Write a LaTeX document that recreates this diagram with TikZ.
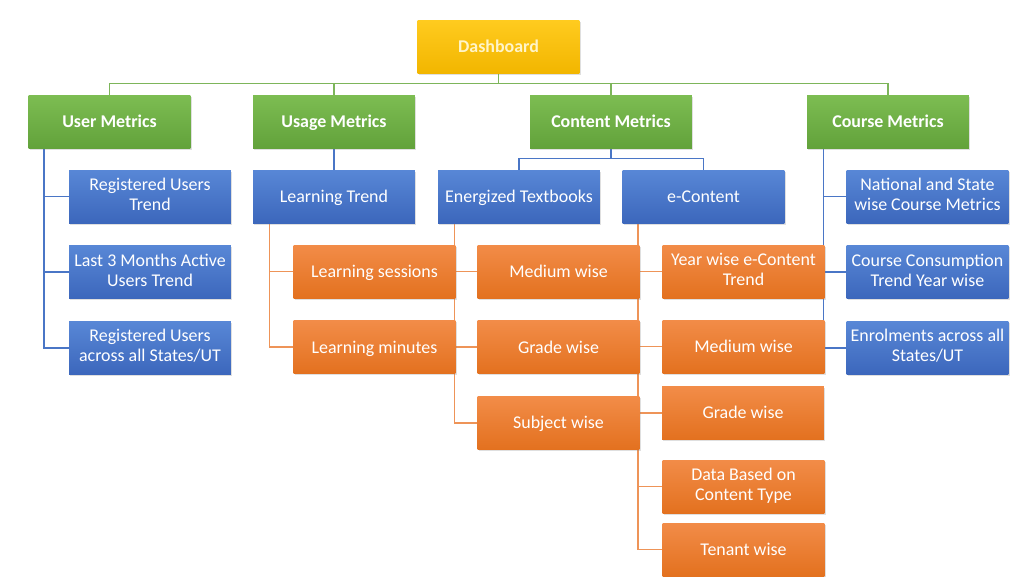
\documentclass[tikz,border=0pt]{standalone}
\usepackage{fontspec}
\setmainfont{Carlito}
\usepackage{tikz}
\usetikzlibrary{positioning,backgrounds,shadows}
\definecolor{goldtop}{HTML}{FFCB1F}
\definecolor{goldbot}{HTML}{F2B600}
\definecolor{goldtext}{HTML}{FFF4C8}
\definecolor{greentop}{HTML}{7DBD52}
\definecolor{greenbot}{HTML}{62A23B}
\definecolor{bluetop}{HTML}{5887D6}
\definecolor{bluebot}{HTML}{3C67BC}
\definecolor{orangetop}{HTML}{F28C48}
\definecolor{orangebot}{HTML}{E3711F}
\definecolor{greenwire}{HTML}{7DB55A}
\definecolor{bluewire}{HTML}{4A76C6}
\definecolor{orangewire}{HTML}{EE9458}

\begin{document}
\begin{tikzpicture}[x=0.02cm, y=-0.02cm,
    box/.style={minimum width=3.24cm, minimum height=1.06cm, inner sep=1pt,
        align=center, text=white, font=\fontsize{10.2}{11.4}\selectfont,
        execute at begin node=\rule[-2.7pt]{0pt}{12.2pt},
        execute at end node=\rule[-2.7pt]{0pt}{12.2pt},
        drop shadow={shadow xshift=0.6pt, shadow yshift=-0.9pt, opacity=0.25}},
    topbox/.style={box, top color=goldtop, bottom color=goldbot, text=goldtext,
        font=\fontsize{10.2}{11.4}\selectfont\bfseries},
    headbox/.style={box, top color=greentop, bottom color=greenbot,
        font=\fontsize{10.2}{11.4}\selectfont\bfseries},
    bluebox/.style={box, top color=bluetop, bottom color=bluebot},
    orangebox/.style={box, top color=orangetop, bottom color=orangebot},
    greenline/.style={draw=greenwire, line width=0.8pt},
    blueline/.style={draw=bluewire, line width=0.8pt},
    orangeline/.style={draw=orangewire, line width=0.8pt}]
  \useasboundingbox (0,0) rectangle (1024,576);

  \node[topbox] (db) at (498.5,46.5) {Dashboard};

  \node[headbox] (um) at (109.5,121.5) {User Metrics};
  \node[headbox] (us) at (334,121.5) {Usage Metrics};
  \node[headbox] (cm) at (611,121.5) {Content Metrics};
  \node[headbox] (co) at (888,121.5) {Course Metrics};

  \node[bluebox] (u1) at (150,196.5) {Registered Users\\Trend};
  \node[bluebox, below=0.44cm of u1] (u2) {Last 3 Months Active\\Users Trend};
  \node[bluebox, below=0.44cm of u2] (u3) {Registered Users\\across all States/UT};

  \node[bluebox] (lt) at (334,196.5) {Learning Trend};
  \node[bluebox] (et) at (519,196.5) {Energized Textbooks};
  \node[bluebox] (ec) at (703.5,196.5) {e-Content};

  \node[bluebox] (c1) at (927.5,196.5) {National and State\\wise Course Metrics};
  \node[bluebox, below=0.44cm of c1] (c2) {Course Consumption\\Trend Year wise};
  \node[bluebox, below=0.44cm of c2] (c3) {Enrolments across all\\States/UT};

  \node[orangebox] (ls) at (374.5,271.5) {Learning sessions};
  \node[orangebox, below=0.44cm of ls] (lm) {Learning minutes};

  \node[orangebox] (em) at (558.5,271.5) {Medium wise};
  \node[orangebox, below=0.44cm of em] (eg) {Grade wise};
  \node[orangebox, below=0.44cm of eg] (es) {Subject wise};

  \node[orangebox] (y1) at (743.5,271.5) {Year wise e-Content\\Trend};
  \node[orangebox] (y2) at (743.5,346.5) {Medium wise};
  \node[orangebox] (y3) at (743,413) {Grade wise};
  \node[orangebox] (y4) at (743.5,486.5) {Data Based on\\Content Type};
  \node[orangebox] (y5) at (743.5,549.5) {Tenant wise};

  \begin{scope}[on background layer]
    \draw[greenline] (db.south) -- ++(0,10) coordinate (bus);
    \foreach \n in {um,us,cm,co}
      \draw[greenline] (bus) -| (\n.north);

    \coordinate (umx) at ([xshift=0.32cm]um.south west);
    \foreach \n in {u1,u2,u3}
      \draw[blueline] (umx) |- (\n.west);
    \draw[blueline] (us.south) -- (lt.north);
    \draw[blueline] (cm.south) -- ++(0,10) coordinate (cbus);
    \draw[blueline] (cbus) -| (et.north);
    \draw[blueline] (cbus) -| (ec.north);
    \coordinate (cox) at ([xshift=0.34cm]co.south west);
    \foreach \n in {c1,c2,c3}
      \draw[blueline] (cox) |- (\n.west);

    \coordinate (ltx) at ([xshift=0.34cm]lt.south west);
    \foreach \n in {ls,lm}
      \draw[orangeline] (ltx) |- (\n.west);
    \coordinate (etx) at ([xshift=0.34cm]et.south west);
    \foreach \n in {em,eg,es}
      \draw[orangeline] (etx) |- (\n.west);
    \coordinate (ecx) at ([xshift=0.32cm]ec.south west);
    \foreach \n in {y1,y2,y3,y4,y5}
      \draw[orangeline] (ecx) |- (\n.west);
  \end{scope}
\end{tikzpicture}
\end{document}
